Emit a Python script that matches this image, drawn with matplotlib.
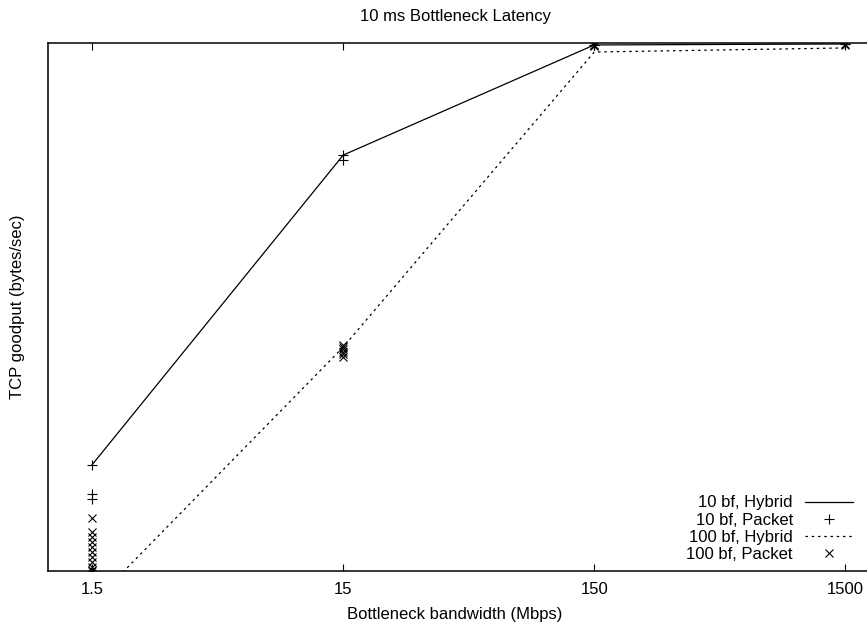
import matplotlib
matplotlib.use("Agg")
import matplotlib.pyplot as plt

plt.rcParams['font.family'] = ['Liberation Sans', 'DejaVu Sans']

# bottleneck bandwidth (Mbps)
bw = [1.5, 15, 150, 1500]

hyb10 = [1.66e5, 1.39e6, 2.96e6, 2.98e6]
hyb100 = [6.4e4, 3.72e5, 2.82e6, 2.90e6]

pkt10_x = [1.5, 1.5, 1.5, 15, 15, 150, 150, 1500, 1500]
pkt10_y = [1.66e5, 1.36e5, 1.31e5, 1.39e6, 1.34e6, 2.96e6, 2.95e6, 2.97e6, 2.98e6]

pkt100_x = [1.5] * 11 + [15] * 6 + [150] * 3 + [1500] * 2
pkt100_y = [1.15e5, 1.046e5, 1.01e5, 9.76e4, 9.43e4, 9.11e4, 8.81e4, 8.51e4, 8.22e4, 8.05e4, 8.0e4,
            3.77e5, 3.72e5, 3.66e5, 3.60e5, 3.54e5, 3.48e5,
            2.93e6, 2.95e6, 2.96e6,
            2.96e6, 2.97e6]

xticks = [1.5, 15, 150, 1500]
xticklabels = ['1.5', '15', '150', '1500']

fs = 12

fig = plt.figure(figsize=(8.67, 6.28), dpi=100)
ax = fig.add_axes([48 / 867, 1 - 571 / 628, 828.6 / 867, 528 / 628])

ax.plot(bw, hyb10, color='black', lw=0.9, label='10 bf, Hybrid')
ax.plot(pkt10_x, pkt10_y, ls='none', marker='+', ms=7, mew=0.8, color='black',
        label='10 bf, Packet')
ax.plot(bw, hyb100, color='black', lw=0.9, ls=(0, (2, 3)), label='100 bf, Hybrid')
ax.plot(pkt100_x, pkt100_y, ls='none', marker='x', ms=5.5, mew=0.8, color='black',
        label='100 bf, Packet')

ax.set_xscale('log')
ax.set_yscale('log')
ax.set_xlim(1, 2000)
ax.set_ylim(8e4, 3e6)
ax.set_xticks(xticks)
ax.set_xticklabels(xticklabels)
ax.xaxis.set_minor_locator(matplotlib.ticker.NullLocator())
ax.set_yticks([])
ax.yaxis.set_minor_locator(matplotlib.ticker.NullLocator())
ax.tick_params(axis='x', direction='in', length=5, width=0.8, top=True, labelsize=fs, pad=8)
for s in ax.spines.values():
    s.set_linewidth(1.1)

fig.text(455 / 867, 1 - 17 / 628, '10 ms Bottleneck Latency', ha='center', va='center', fontsize=fs)
fig.text(455 / 867, 1 - 615 / 628, 'Bottleneck bandwidth (Mbps)', ha='center', va='center', fontsize=fs)
fig.text(18 / 867, 1 - 307 / 628, 'TCP goodput (bytes/sec)', ha='center', va='center',
         rotation=90, fontsize=fs)

ax.legend(loc='lower right', bbox_to_anchor=(853 / 867, 1 - 562 / 628), bbox_transform=fig.transFigure,
          frameon=False, markerfirst=False, fontsize=fs, handlelength=2.9, handletextpad=0.7,
          labelspacing=0.13, borderpad=0, borderaxespad=0)

fig.savefig('out.png', dpi=100)
